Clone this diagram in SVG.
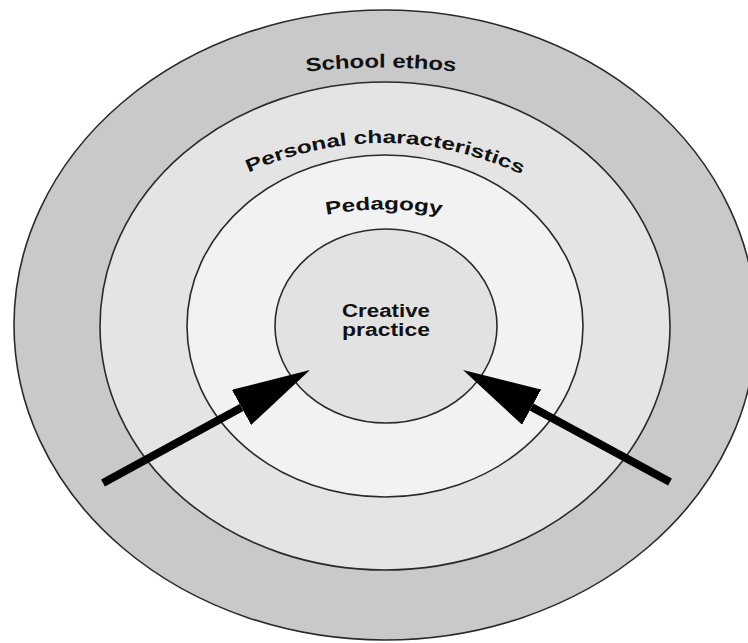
<svg xmlns="http://www.w3.org/2000/svg" xmlns:xlink="http://www.w3.org/1999/xlink" width="748" height="643" viewBox="0 0 748 643">
  <style>
    .ring { stroke: #2a2a2a; stroke-width: 1.6; }
    .lbl { font-family: "Liberation Sans", Arial, sans-serif; font-weight: bold; fill: #111; }
    .conn { stroke: #000; stroke-width: 8; fill: none; }
  </style>
  <defs>
    <marker id="head" viewBox="0 0 78 40" refX="0" refY="20" markerWidth="78" markerHeight="40" markerUnits="userSpaceOnUse" orient="auto">
      <path d="M0,0 L78,20 L0,40 z" fill="#000"/>
    </marker>
    <path id="pSchool" d="M296,73 Q381,62 466,73"/>
    <path id="pPersonal" d="M243,175 Q385,110 527,177"/>
    <path id="pPedagogy" d="M320,216 Q384,203 448,216"/>
  </defs>
  <rect width="748" height="643" fill="#ffffff"/>

  <g id="school-ethos">
    <ellipse class="ring" cx="385" cy="325" rx="371" ry="315" fill="#c9c9c9"/>
    <text class="lbl" font-size="19" text-anchor="middle"><textPath xlink:href="#pSchool" startOffset="50%" textLength="150" lengthAdjust="spacingAndGlyphs">School ethos</textPath></text>
  </g>

  <g id="personal-characteristics">
    <ellipse class="ring" cx="385" cy="326" rx="285" ry="244" fill="#e4e4e4"/>
    <text class="lbl" font-size="18" text-anchor="middle"><textPath xlink:href="#pPersonal" startOffset="50%" textLength="282" lengthAdjust="spacingAndGlyphs">Personal characteristics</textPath></text>
  </g>

  <g id="pedagogy">
    <ellipse class="ring" cx="385" cy="326" rx="198" ry="171" fill="#f2f2f2"/>
    <text class="lbl" font-size="18" text-anchor="middle"><textPath xlink:href="#pPedagogy" startOffset="50%" textLength="116" lengthAdjust="spacingAndGlyphs">Pedagogy</textPath></text>
  </g>

  <g id="creative-practice">
    <ellipse class="ring" cx="386" cy="326" rx="111" ry="97" fill="#e2e2e2"/>
    <text class="lbl" font-size="18" x="386" y="317" text-anchor="middle" textLength="88" lengthAdjust="spacingAndGlyphs">Creative</text>
    <text class="lbl" font-size="18" x="386" y="336" text-anchor="middle" textLength="88" lengthAdjust="spacingAndGlyphs">practice</text>
  </g>

  <g id="connectors">
    <line class="conn" x1="103" y1="483" x2="241.5" y2="407.4" marker-end="url(#head)"/>
    <line class="conn" x1="670" y1="482" x2="531.6" y2="407.1" marker-end="url(#head)"/>
  </g>
</svg>
